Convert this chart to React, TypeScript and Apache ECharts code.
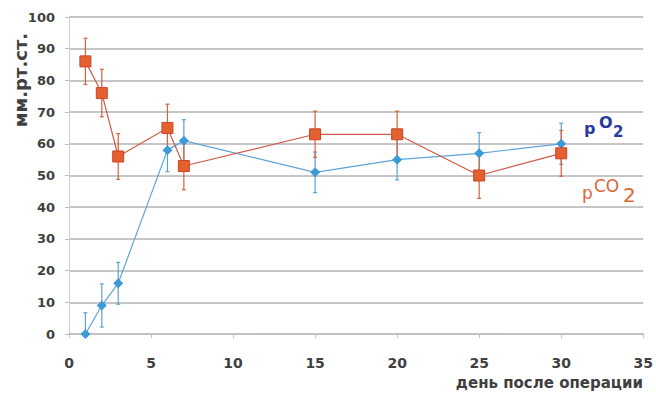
import React, { useEffect, useRef } from "react";
import * as echarts from "echarts";

const days = [1, 2, 3, 6, 7, 15, 20, 25, 30];
const pO2 = [0, 9, 16, 58, 61, 51, 55, 57, 60];
const pO2Err = [6.7, 6.8, 6.6, 6.8, 6.6, 6.4, 6.4, 6.5, 6.5];
const pCO2 = [86, 76, 56, 65, 53, 63, 63, 50, 57];
const pCO2Err = [7.3, 7.5, 7.2, 7.5, 7.5, 7.3, 7.3, 7.2, 7.2];
const xTicks = { min: 0, max: 35, interval: 5 };
const yTicks = { min: 0, max: 100, interval: 10 };

const BLUE = "#3d9ad8";
const RED = "#e5602f";
const LABEL = "#3f3f3f";
const FONT = "DejaVu Sans";

function errData(vals: number[], errs: number[]) {
  return days.map((d, i) => [d, vals[i] - errs[i], vals[i] + errs[i]]);
}

function errSeries(vals: number[], errs: number[], color: string, z: number) {
  return {
    type: "custom",
    z,
    clip: true,
    data: errData(vals, errs),
    renderItem: (params: any, api: any) => {
      const x = api.value(0);
      const lo = api.coord([x, api.value(1)]);
      const hi = api.coord([x, api.value(2)]);
      const cap = 2;
      const st = { stroke: color, lineWidth: 1.2 };
      return {
        type: "group",
        children: [
          { type: "line", shape: { x1: lo[0], y1: lo[1], x2: hi[0], y2: hi[1] }, style: st },
          { type: "line", shape: { x1: lo[0] - cap, y1: lo[1], x2: lo[0] + cap, y2: lo[1] }, style: st },
          { type: "line", shape: { x1: hi[0] - cap, y1: hi[1], x2: hi[0] + cap, y2: hi[1] }, style: st },
        ],
      };
    },
  };
}

export default function App() {
  const ref = useRef<HTMLDivElement>(null);
  useEffect(() => {
    if (!ref.current) return;
    const chart = echarts.init(ref.current, null, { renderer: "svg" });
    chart.setOption({
      animation: false,
      backgroundColor: "#ffffff",
      grid: { left: 69, right: 8, top: 17, bottom: 60 },
      xAxis: {
        type: "value",
        ...xTicks,
        axisLine: { show: true, lineStyle: { color: "#bfbfbf", width: 1.5 } },
        axisTick: { show: true, length: 4, lineStyle: { color: "#bfbfbf" } },
        splitLine: { show: false },
        axisLabel: { color: LABEL, fontFamily: FONT, fontWeight: "bold", fontSize: 14, margin: 22 },
      },
      yAxis: {
        type: "value",
        ...yTicks,
        axisLine: { show: true, lineStyle: { color: "#d0d0d0", width: 1 } },
        axisTick: { show: true, length: 4, lineStyle: { color: "#bfbfbf" } },
        splitLine: { show: true, lineStyle: { color: "#b3b3b3", width: 1.6 } },
        axisLabel: { color: LABEL, fontFamily: FONT, fontWeight: "bold", fontSize: 13, margin: 14 },
      },
      series: [
        errSeries(pO2, pO2Err, "#5aa3d6", 2),
        errSeries(pCO2, pCO2Err, "#d9603a", 3),
        {
          type: "line",
          z: 4,
          data: days.map((d, i) => [d, pO2[i]]),
          symbol: "diamond",
          symbolSize: 10,
          itemStyle: { color: BLUE },
          lineStyle: { color: "#5fa5da", width: 1.2 },
        },
        {
          type: "line",
          z: 5,
          data: days.map((d, i) => [d, pCO2[i]]),
          symbol: "rect",
          symbolSize: 11,
          itemStyle: { color: RED, borderColor: "#c8452a", borderWidth: 1 },
          lineStyle: { color: "#cf5a4a", width: 1.2 },
        },
      ],
      graphic: [
        {
          type: "text",
          x: 20,
          y: 80,
          rotation: Math.PI / 2,
          style: {
            text: "мм.рт.ст.",
            fill: LABEL,
            font: `bold 18px "${FONT}"`,
            align: "center",
            verticalAlign: "middle",
          },
        },
        {
          type: "text",
          x: 643,
          y: 383,
          style: {
            text: "день после операции",
            fill: LABEL,
            font: `bold 15px "${FONT}"`,
            align: "right",
            verticalAlign: "middle",
          },
        },
        { type: "text", x: 584, y: 128, style: { text: "p", fill: "#2b3a9e", font: `bold 16px "${FONT}"`, verticalAlign: "middle" } },
        { type: "text", x: 599, y: 122, style: { text: "O", fill: "#2b3a9e", font: `bold 16px "${FONT}"`, verticalAlign: "middle" } },
        { type: "text", x: 613, y: 132, style: { text: "2", fill: "#2b3a9e", font: `bold 15px "${FONT}"`, verticalAlign: "middle" } },
        { type: "text", x: 582, y: 193, style: { text: "p", fill: "#d9673a", font: `17px "${FONT}"`, verticalAlign: "middle" } },
        { type: "text", x: 594, y: 186, style: { text: "CO", fill: "#d9673a", font: `17px "${FONT}"`, verticalAlign: "middle" } },
        { type: "text", x: 623, y: 195, style: { text: "2", fill: "#d9673a", font: `20px "${FONT}"`, verticalAlign: "middle" } },
      ],
    });
    return () => chart.dispose();
  }, []);
  return <div ref={ref} style={{ width: 656, height: 394, position: "absolute", left: 0, top: 0 }} />;
}
